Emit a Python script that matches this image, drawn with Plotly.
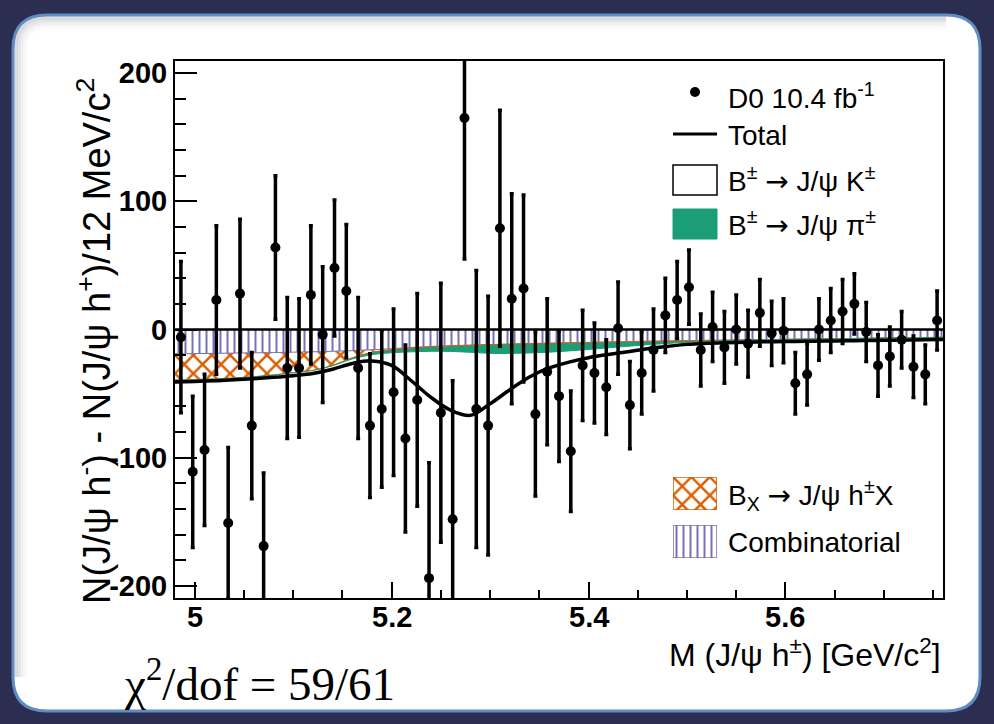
import numpy as np
import plotly.graph_objects as go

# ---------------------------------------------------------------- data
# Charge asymmetry N(J/psi h-) - N(J/psi h+) in 12 MeV bins, 4.98 - 5.76 GeV
M_LO, BIN_W, N_BINS = 4.98, 0.012, 65
bin_centers = M_LO + BIN_W * (np.arange(N_BINS) + 0.5)

asym = [-6, -111, -94, 23, -151, 28, -75, -169, 64, -30,
        -30, 27, -4, 48, 30, -30, -75, -62, -49, -85,
        -55, -194, -65, -148, 165, -62, -75, 79, 24, 32,
        -66, -33, -52, -95, -28, -34, -45, 1, -59, -34,
        -16, 11, 23, 33, -16, 2, -14, 0, -11, 13,
        -3, -1, -42, -35, 0, 7, 14, 20, -2, -28,
        -21, -8, -29, -35, 7]
asym_err = [59, 59, 59, 58, 59, 58, 57, 57, 56, 55,
            54, 54, 53, 53, 52, 55, 56, 61, 65, 73,
            83, 90, 101, 108, 110, 108, 101, 92, 82, 73,
            64, 57, 51, 47, 43, 39, 37, 36, 34, 32,
            32, 29, 30, 29, 28, 27, 28, 27, 26, 26,
            25, 25, 24, 24, 24, 25, 25, 23.5, 23, 24,
            23, 22, 24, 23, 23]

# Fit components evaluated on a 20 MeV grid
model_mass = np.round(np.arange(4.98, 5.7601, 0.02), 2)
comb = [-19.0, -18.8, -18.6, -18.4, -18.2, -18.0, -17.7, -17.4, -17.0, -16.5,
        -15.8, -15.0, -14.0, -13.2, -12.6, -12.2, -11.8, -11.4, -11.0, -10.7,
        -10.4, -10.1, -9.8, -9.5, -9.2, -9.0, -8.7, -8.5, -8.3, -8.1,
        -7.9, -7.7, -7.5, -7.3, -7.1, -6.9, -6.7, -6.5, -6.3, -6.1]
bx = [-20.5, -20.3, -20.0, -19.5, -18.7, -17.5, -16.0, -14.5, -11.0, -5.5,
      -2.0, -0.7, -0.4, -0.3, -0.2, -0.1, 0, 0, 0, 0,
      0, 0, 0, 0, 0, 0, 0, 0, 0, 0,
      0, 0, 0, 0, 0, 0, 0, 0, 0, 0]
pion = [0, 0, 0, 0, 0, 0, 0, 0, -0.3, -1.0,
        -1.8, -2.5, -3.0, -3.5, -4.3, -5.5, -6.8, -7.3, -7.3, -7.0,
        -6.3, -5.5, -4.5, -3.6, -2.7, -1.9, -1.2, -0.7, -0.4, -0.2,
        -0.1, 0, 0, 0, 0, 0, 0, 0, 0, 0]
kaon = [-1.5, -1.4, -1.4, -1.4, -1.5, -1.8, -2.3, -2.4, -2.7, -3.5,
        -4.9, -9.8, -22.6, -36.0, -45.9, -49.2, -39.4, -28.3, -18.7, -12.3,
        -8.8, -6.4, -5.2, -4.2, -3.1, -2.3, -1.7, -1.6, -1.6, -1.6,
        -1.6, -1.7, -1.7, -1.7, -1.7, -1.7, -1.7, -1.7, -1.7, -1.7]

X_TICKS = [5.0, 5.2, 5.4, 5.6]
X_LABELS = ["5", "5.2", "5.4", "5.6"]
Y_TICKS = [-200, -100, 0, 100, 200]
Y_LABELS = ["-200", "-100", "0", "100", "200"]

# ---------------------------------------------------------------- style
W, H = 994, 724
ML, MR, MT, MB = 175, 51, 61, 126
PW, PH = W - ML - MR, H - MT - MB
SANS = "Liberation Sans, Arial, sans-serif"
SERIF = "Liberation Serif, Times New Roman, serif"
C_COMB = "#7570b3"
C_BX = "#d95f02"
C_PI = "#1b9e77"
ARROW = '<span style="font-family:DejaVu Sans">→</span>'
TICK_FONT = dict(family=SANS, size=29, color="black", weight="bold")


def px(x):
    return (x - ML) / PW


def py(y):
    return (H - MB - y) / PH


# stacked levels (all contributions are negative)
lvl_comb = np.array(comb)
lvl_bx = lvl_comb + np.array(bx)
lvl_pi = lvl_bx + np.array(pion)
total = lvl_pi + np.array(kaon)

comb_pattern = dict(shape="|", fgcolor=C_COMB, bgcolor="white",
                    size=7, solidity=0.28, fillmode="replace")
bx_pattern = dict(shape="x", fgcolor=C_BX, bgcolor="white",
                  size=13, solidity=0.35, fillmode="replace")

fig = go.Figure()

fig.add_trace(go.Scatter(x=model_mass, y=np.zeros(len(model_mass)), mode="lines",
                         line=dict(color="black", width=2.5), showlegend=False,
                         hoverinfo="skip"))
fig.add_trace(go.Scatter(x=model_mass, y=lvl_comb, mode="lines", fill="tonexty",
                         line=dict(color=C_COMB, width=1, shape="spline"),
                         fillpattern=comb_pattern, showlegend=False, hoverinfo="skip"))
fig.add_trace(go.Scatter(x=model_mass, y=lvl_bx, mode="lines", fill="tonexty",
                         line=dict(color=C_BX, width=1, shape="spline"),
                         fillpattern=bx_pattern, showlegend=False, hoverinfo="skip"))
fig.add_trace(go.Scatter(x=model_mass, y=lvl_pi, mode="lines", fill="tonexty",
                         fillcolor=C_PI, line=dict(color=C_PI, width=1, shape="spline"),
                         showlegend=False, hoverinfo="skip"))
fig.add_trace(go.Scatter(x=model_mass, y=total, mode="lines",
                         line=dict(color="black", width=3.5, shape="spline"),
                         showlegend=False))
fig.add_trace(go.Scatter(x=bin_centers, y=asym, mode="markers",
                         marker=dict(color="black", size=10),
                         error_y=dict(type="data", array=asym_err, color="black",
                                      thickness=3.5, width=2),
                         showlegend=False))


# patterned legend swatches live on their own tiny axes
def swatch_axes(idx, y_top, y_bot):
    fig.update_layout(**{
        f"xaxis{idx}": dict(domain=[px(673), px(717)], range=[0, 1], visible=False,
                            anchor=f"y{idx}", fixedrange=True),
        f"yaxis{idx}": dict(domain=[py(y_bot), py(y_top)], range=[0, 1], visible=False,
                            anchor=f"x{idx}", fixedrange=True),
    })


box_x = [0, 1, 1, 0, 0]
box_y = [0, 0, 1, 1, 0]
swatch_axes(2, 477, 510)
fig.add_trace(go.Scatter(x=box_x, y=box_y, xaxis="x2", yaxis="y2", mode="lines",
                         fill="toself", line=dict(color=C_BX, width=1.5),
                         fillpattern=bx_pattern, cliponaxis=False,
                         showlegend=False, hoverinfo="skip"))
swatch_axes(3, 525, 558)
fig.add_trace(go.Scatter(x=box_x, y=box_y, xaxis="x3", yaxis="y3", mode="lines",
                         fill="toself", line=dict(color=C_COMB, width=1.5),
                         fillpattern=comb_pattern, cliponaxis=False,
                         showlegend=False, hoverinfo="skip"))


# ---------------------------------------------------------------- frame
def rounded_rect(x0, y0, x1, y1, r):
    pts = [
        f"M {px(x0 + r)} {py(y0)}",
        f"L {px(x1 - r)} {py(y0)}",
        f"Q {px(x1)} {py(y0)} {px(x1)} {py(y0 + r)}",
        f"L {px(x1)} {py(y1 - r)}",
        f"Q {px(x1)} {py(y1)} {px(x1 - r)} {py(y1)}",
        f"L {px(x0 + r)} {py(y1)}",
        f"Q {px(x0)} {py(y1)} {px(x0)} {py(y1 - r)}",
        f"L {px(x0)} {py(y0 + r)}",
        f"Q {px(x0)} {py(y0)} {px(x0 + r)} {py(y0)}",
        "Z",
    ]
    return " ".join(pts)


def top_left_edge(x0, y0, x1, y1, r, inset):
    # upper and left inner edge of the panel, used for a soft inner shadow
    a, b = x0 + inset, y0 + inset
    rr = r - inset
    return (f"M {px(a)} {py(y1 - r)} L {px(a)} {py(b + rr)} "
            f"Q {px(a)} {py(b)} {px(a + rr)} {py(b)} L {px(x1 - r)} {py(b)}")


PANEL = (13, 15, 980, 711, 34)
shapes = [
    dict(type="path", xref="paper", yref="paper", layer="below",
         path=rounded_rect(*PANEL), fillcolor="white",
         line=dict(color="#5f8cc2", width=3)),
]
for k, alpha in enumerate([0.16, 0.11, 0.07, 0.04, 0.02]):
    shapes.append(dict(type="path", xref="paper", yref="paper", layer="below",
                       path=top_left_edge(*PANEL, 3 + 2.5 * k),
                       line=dict(color=f"rgba(40,40,60,{alpha})", width=3)))
shapes += [
    # legend symbols
    dict(type="circle", xref="paper", yref="paper",
         x0=px(690), x1=px(700), y0=py(97), y1=py(87),
         fillcolor="black", line=dict(color="black", width=0)),
    dict(type="line", xref="paper", yref="paper",
         x0=px(673), x1=px(717), y0=py(134), y1=py(134),
         line=dict(color="black", width=3)),
    dict(type="rect", xref="paper", yref="paper",
         x0=px(673), x1=px(717), y0=py(195), y1=py(165),
         fillcolor="white", line=dict(color="black", width=1.5)),
    dict(type="rect", xref="paper", yref="paper",
         x0=px(673), x1=px(717), y0=py(239), y1=py(209),
         fillcolor=C_PI, line=dict(color=C_PI, width=1)),
]


def label(x, y, text, size=28, font=SANS, anchor="left", angle=0):
    return dict(x=px(x), y=py(y), xref="paper", yref="paper", text=text,
                showarrow=False, xanchor=anchor, yanchor="middle", textangle=angle,
                font=dict(family=font, size=size, color="black"))


annotations = [
    label(726, 96, "D0 10.4 fb<sup>-1</sup>"),
    label(726, 135, "Total"),
    label(726, 179, f"B<sup>±</sup> {ARROW} J/ψ K<sup>±</sup>"),
    label(726, 223, f"B<sup>±</sup> {ARROW} J/ψ π<sup>±</sup>"),
    label(726, 495, f"B<sub>X</sub> {ARROW} J/ψ h<sup>±</sup>X"),
    label(726, 542, "Combinatorial"),
    label(94, 341, "N(J/ψ h<sup>-</sup>) - N(J/ψ h<sup>+</sup>)/12 MeV/c<sup>2</sup>",
          size=38, anchor="center", angle=-90),
    label(943, 653, "M (J/ψ h<sup>±</sup>) [GeV/c<sup>2</sup>]", size=32, anchor="right"),
    label(122, 681, "χ<sup>2</sup>/dof = 59/61", size=47, font=SERIF),
]
# x tick labels sit a little closer to the axis than plotly's default
for val, txt in zip(X_TICKS, X_LABELS):
    annotations.append(dict(x=val, y=py(617), xref="x", yref="paper", text=txt,
                            showarrow=False, xanchor="center", yanchor="middle",
                            font=TICK_FONT))

axis_common = dict(showgrid=False, zeroline=False, showline=True, linecolor="black",
                   linewidth=2, mirror=True, ticks="inside", tickwidth=2,
                   tickcolor="black", tickfont=TICK_FONT)

fig.update_layout(
    width=W, height=H,
    margin=dict(l=ML, r=MR, t=MT, b=MB),
    paper_bgcolor="#2b2e50",
    plot_bgcolor="white",
    showlegend=False,
    xaxis=dict(range=[4.98, 5.76], tickvals=X_TICKS, ticktext=X_LABELS, ticklen=16,
               showticklabels=False,
               minor=dict(dtick=0.05, tick0=5.0, ticks="inside", ticklen=8,
                          tickwidth=2, tickcolor="black"),
               **axis_common),
    yaxis=dict(range=[-209.5, 209.5], tickvals=Y_TICKS, ticktext=Y_LABELS, ticklen=22,
               minor=dict(dtick=20, tick0=0, ticks="inside", ticklen=11,
                          tickwidth=2, tickcolor="black"),
               **axis_common),
    shapes=shapes,
    annotations=annotations,
)

fig.write_html("out.html")
